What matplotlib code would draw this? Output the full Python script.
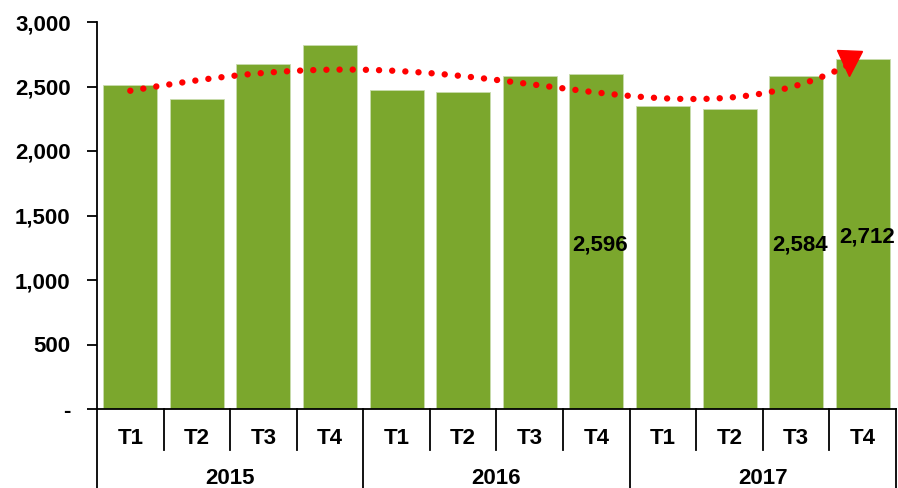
import numpy as np
import matplotlib
matplotlib.use("Agg")
import matplotlib.pyplot as plt
from matplotlib.lines import Line2D
import matplotlib.transforms as mtransforms

plt.rcParams['font.family'] = ['Liberation Sans', 'DejaVu Sans']
plt.rcParams['font.weight'] = 'bold'

years = ["2015", "2016", "2017"]
quarters = ["T1", "T2", "T3", "T4"]
values = [2512, 2405, 2672, 2819, 2473, 2457, 2580, 2596, 2349, 2323, 2584, 2712]
labeled = {7: "2,596", 10: "2,584", 11: "2,712"}
yticks = [0, 500, 1000, 1500, 2000, 2500, 3000]
yticklabels = ["-", "500", "1,000", "1,500", "2,000", "2,500", "3,000"]
trend_degree = 4

W, H = 898, 488
FS = 16
fig = plt.figure(figsize=(W / 100, H / 100), dpi=100)
x0, x1, ybot, ytop = 97, 896, 409, 22
ax = fig.add_axes([x0 / W, (H - ybot) / H, (x1 - x0) / W, (ybot - ytop) / H])

x = np.arange(len(values))
green = "#7ba72d"
ax.bar(x, values, width=0.81, color=green, edgecolor="#c9dcae", linewidth=0.6, zorder=2)

# polynomial trend line
coef = np.polyfit(x, values, trend_degree)
xs = np.linspace(0, 10.8, 300)
ys = np.polyval(coef, xs)
ax.plot(xs, ys, color="#ff0000", linewidth=4.6, linestyle=(0, (0.01, 2.05)),
        dash_capstyle="round", zorder=3, clip_on=False)
ax.plot([xs[-1]], [ys[-1] + 10], marker="v", color="#ff0000", markersize=18, zorder=4, clip_on=False)

for i, t in labeled.items():
    ax.text(i + 0.06, 1270 if i != 11 else 1330, t, ha="center", va="center",
            fontsize=FS, fontweight="bold", zorder=5)

ax.set_xlim(-0.5, len(values) - 0.5)
ax.set_ylim(0, 3000)
ax.set_yticks(yticks)
ax.set_yticklabels(yticklabels, fontsize=FS, fontweight="bold")
ax.tick_params(axis="y", direction="out", length=7, width=1.3, pad=12)
ax.set_xticks([])
for s in ["top", "right"]:
    ax.spines[s].set_visible(False)
ax.spines["left"].set_linewidth(1.3)
ax.spines["bottom"].set_linewidth(1.3)

# category axis (two levels)
trans = mtransforms.blended_transform_factory(ax.transData, fig.transFigure)
qy = 1 - 438 / H
yy = 1 - 479 / H
for i in range(len(values)):
    ax.text(i, qy, quarters[i % 4], transform=trans, ha="center", va="center",
            fontsize=FS, fontweight="bold", clip_on=False)
for g, yr in enumerate(years):
    ax.text(g * 4 + 1.5, yy, yr, transform=trans, ha="center", va="center",
            fontsize=FS, fontweight="bold", clip_on=False)
for b in range(len(values) + 1):
    xb = b - 0.5
    if b % 4 == 0:
        y_end = 0.0
    else:
        y_end = 1 - 450 / H
    fig.add_artist(Line2D([xb, xb], [1 - ybot / H, y_end], transform=trans,
                          color="black", linewidth=1.3, clip_on=False))

fig.savefig("out.png", dpi=100)
